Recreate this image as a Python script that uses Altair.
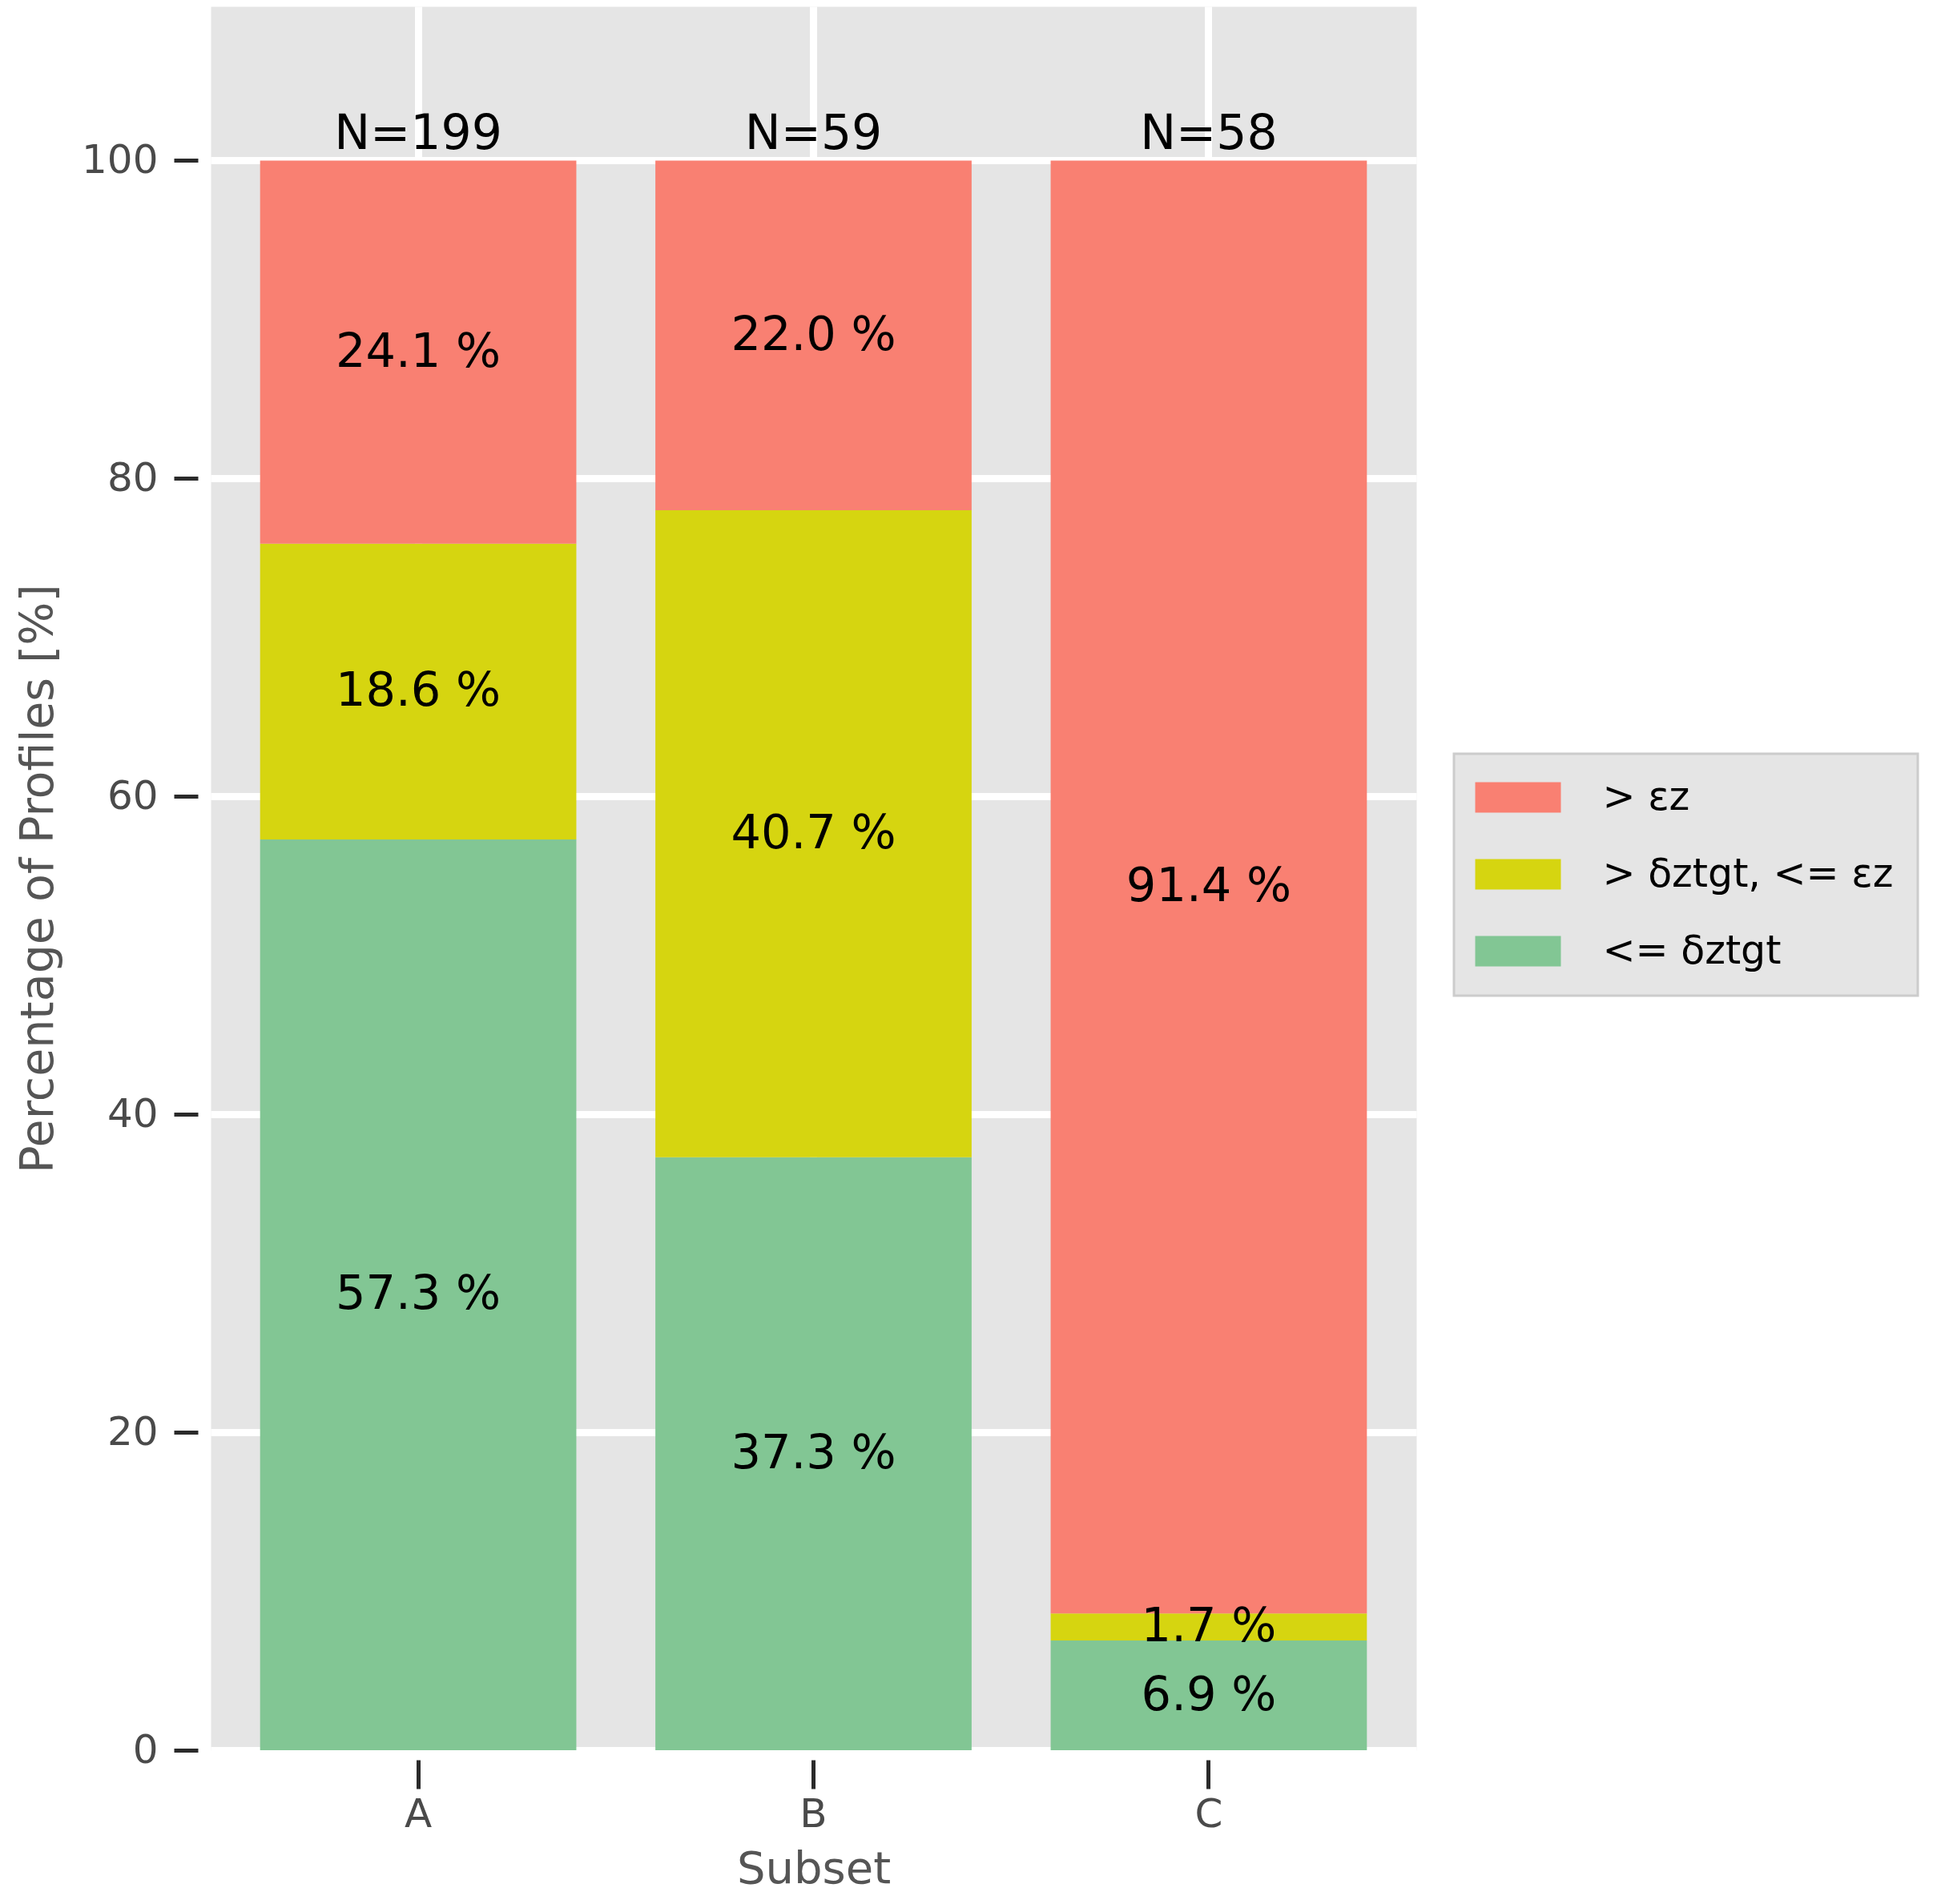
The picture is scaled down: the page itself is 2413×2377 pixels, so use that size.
import altair as alt
import pandas as pd

# ---- data ----
subsets = ["A", "B", "C"]
cat_labels = ["> εz", "> δztgt, <= εz", "<= δztgt"]   # legend order, top to bottom
cat_colors = ["#F98072", "#D6D510", "#82C694"]
pct_high = [24.1, 22.0, 91.4]   # > eps_z
pct_mid = [18.6, 40.7, 1.7]     # > dz_tgt, <= eps_z
pct_low = [57.3, 37.3, 6.9]     # <= dz_tgt
n_profiles = [199, 59, 58]
y_ticks = [0, 20, 40, 60, 80, 100]

# ---- build stacked table (bottom: low, then mid, then high) ----
rows = []
for i, s in enumerate(subsets):
    base = 0.0
    for cat, vals in ((cat_labels[2], pct_low), (cat_labels[1], pct_mid), (cat_labels[0], pct_high)):
        v = vals[i]
        rows.append({"subset": s, "cat": cat, "y0": base, "y1": base + v,
                     "mid": base + v / 2.0, "label": f"{v:.1f} %"})
        base += v
df = pd.DataFrame(rows)
ndf = pd.DataFrame({"subset": subsets, "ntext": [f"N={n}" for n in n_profiles]})

FONT = "DejaVu Sans"

x_enc = alt.X(
    "subset:N",
    scale=alt.Scale(domain=subsets, paddingInner=0.2, paddingOuter=0.125),
    axis=alt.Axis(
        title="Subset", labelAngle=0, bandPosition=0.5, grid=True,
        gridColor="white", gridWidth=9, domain=False,
        offset=12, tickSize=36, tickWidth=5, tickColor="#2a2a2a",
        labelPadding=7, labelFontSize=50, labelColor="#4a4a4a", labelFont=FONT,
        titleFontSize=56, titleColor="#555555", titleFont=FONT,
        titleFontWeight="normal", titlePadding=16,
    ),
)
y_scale = alt.Scale(domain=[0, 109.7], nice=False, zero=True)

bars = alt.Chart(df).mark_bar(opacity=1).encode(
    x=x_enc,
    y=alt.Y(
        "y0:Q", scale=y_scale,
        axis=alt.Axis(
            values=y_ticks, title="Percentage of Profiles [%]", grid=True,
            gridColor="white", gridWidth=9, domain=False,
            offset=16, tickSize=30, tickWidth=5, tickColor="#2a2a2a",
            labelPadding=20, labelFontSize=50, labelColor="#4a4a4a", labelFont=FONT,
            titleFontSize=57, titleColor="#555555", titleFont=FONT,
            titleFontWeight="normal", titlePadding=24,
        ),
    ),
    y2="y1:Q",
    color=alt.Color(
        "cat:N",
        scale=alt.Scale(domain=cat_labels, range=cat_colors),
        legend=alt.Legend(title=None, orient="none", legendX=1552, legendY=933),
    ),
)

seg_text = alt.Chart(df).mark_text(
    font=FONT, fontSize=59, color="black", baseline="middle", align="center"
).encode(
    x=alt.X("subset:N"),
    y=alt.Y("mid:Q"),
    text="label:N",
)

n_text = alt.Chart(ndf).mark_text(
    font=FONT, fontSize=60, color="black", baseline="alphabetic", align="center", dy=-14
).encode(
    x=alt.X("subset:N"),
    y=alt.Y(datum=100),
    text="ntext:N",
)

chart = (
    alt.layer(bars, seg_text, n_text)
    .properties(
        width=1505, height=2177,
        autosize=alt.AutoSizeParams(type="none"),
        padding={"left": 255, "top": 0, "right": 637, "bottom": 184},
        background="white",
    )
    .configure_view(fill="#E5E5E5", stroke="transparent")
    .configure_legend(
        fillColor="#E5E5E5", strokeColor="#CCCCCC", strokeWidth=3,
        padding=30, rowPadding=46,
        symbolType="M-2.229,-0.79L2.229,-0.79L2.229,0.79L-2.229,0.79Z",
        symbolSize=2304, symbolStrokeWidth=0, symbolOpacity=1,
        symbolOffset=25.5, labelOffset=81, labelLimit=800,
        labelFontSize=49, labelFont=FONT, labelColor="black",
    )
)

chart.save("out.html", embed_options={"renderer": "svg", "actions": False})
